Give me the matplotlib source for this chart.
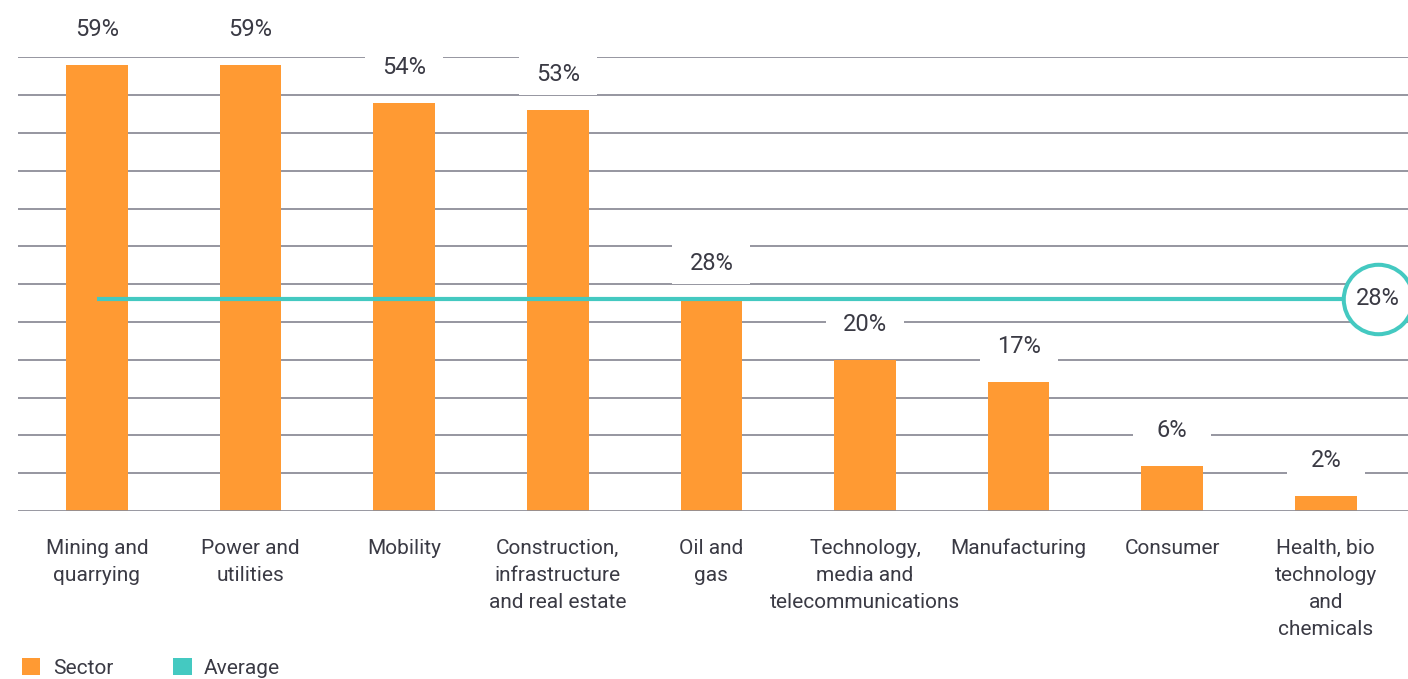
import matplotlib
matplotlib.use("Agg")
import matplotlib.pyplot as plt
from matplotlib.patches import Patch, Rectangle

categories = ["Mining and\nquarrying", "Power and\nutilities", "Mobility",
              "Construction,\ninfrastructure\nand real estate", "Oil and\ngas",
              "Technology,\nmedia and\ntelecommunications", "Manufacturing",
              "Consumer", "Health, bio\ntechnology\nand\nchemicals"]
sector_values = [59, 59, 54, 53, 28, 20, 17, 6, 2]
average_value = 28
legend_labels = ["Sector", "Average"]

ORANGE = "#FF9A33"
TEAL = "#44C9C1"
GRID = "#8E8E98"
TEXT = "#3A3A44"

plt.rcParams['font.family'] = ['Roboto', 'DejaVu Sans']

fig = plt.figure(figsize=(14.08, 6.79), dpi=100)
W, H = 1408, 679
ax = fig.add_axes([18 / W, 1 - 511 / H, 1 - 18 / W, (511 - 57.4) / H])

x = list(range(len(categories)))
ax.set_xlim(-0.514, 8.535)
ax.set_ylim(0, 60)

# grid lines
for g in range(5, 61, 5):
    ax.axhline(g, color=GRID, lw=1.3, zorder=1)
ax.axhline(0, color=GRID, lw=2.0, zorder=4)

ax.bar(x, sector_values, width=0.4, color=ORANGE, zorder=3)

# average line + circle marker
ax.plot([x[0], x[-1] + 0.34], [average_value, average_value], color=TEAL, lw=3.0,
        zorder=5, solid_capstyle='butt')
ax.plot([x[-1] + 0.34], [average_value], marker='o', markersize=50, mfc='white',
        mec=TEAL, mew=2.9, zorder=6, clip_on=False)
ax.text(x[-1] + 0.34, average_value + 0.1, f"{average_value}%", ha='center', va='center',
        fontsize=17, color=TEXT, zorder=7, clip_on=False)

# value labels with white boxes
px_per_unit_y = (511 - 57.4) / 60.0
off = 35.5 / px_per_unit_y
box_w = 78 / 153.6
box_h = 40 / px_per_unit_y
for xi, v in zip(x, sector_values):
    cy = v + off
    ax.add_patch(Rectangle((xi - box_w / 2, cy - box_h / 2), box_w, box_h,
                           facecolor='white', edgecolor='none', zorder=2, clip_on=False))
    ax.text(xi, cy, f"{v}%", ha='center', va='center', fontsize=17, color=TEXT,
            zorder=7, clip_on=False)

ax.set_xticks(x)
ax.set_xticklabels(categories, fontsize=15, color=TEXT, linespacing=1.54,
                   multialignment='center')
ax.tick_params(axis='x', length=0, pad=20)
ax.set_yticks([])
for s in ax.spines.values():
    s.set_visible(False)

handles = [Patch(facecolor=ORANGE, edgecolor='none'), Patch(facecolor=TEAL, edgecolor='none')]
fig.legend(handles, legend_labels, loc='center left', bbox_to_anchor=(22 / W, 1 - 668 / H),
           ncol=2, frameon=False, fontsize=15, handlelength=0.87, handleheight=0.87,
           handletextpad=0.6, columnspacing=2.9, borderpad=0, borderaxespad=0,
           labelcolor=TEXT)

fig.savefig("out.png", dpi=100, facecolor='white')
